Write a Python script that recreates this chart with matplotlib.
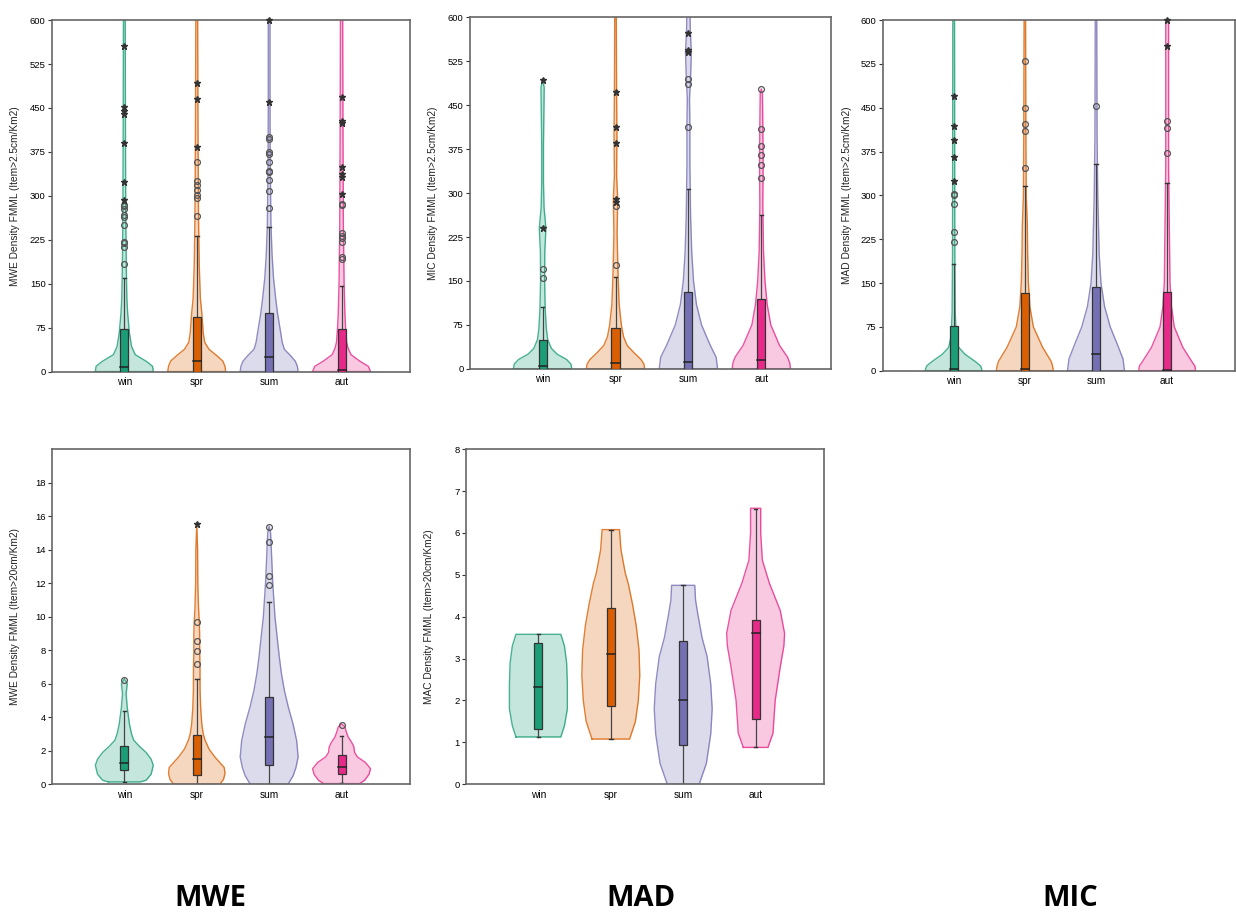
import matplotlib.pyplot as plt
import numpy as np

# estaciones y colores (Dark2)
seasons = ["win", "spr", "sum", "aut"]
colors = ["#1b9e77", "#d95f02", "#7570b3", "#e7298a"]

# ---------------- MWE > 2.5 cm ----------------
mwe25_vy = [
    [0, 9, 17, 29, 43, 66, 100, 125, 170, 260, 400, 620],
    [0, 9, 18, 28, 38, 50, 66, 100, 125, 180, 260, 400, 620],
    [0, 9, 18, 28, 38, 50, 66, 100, 125, 160, 200, 250, 350, 450, 620],
    [0, 9, 18, 29, 40, 50, 75, 100, 150, 250, 400, 620],
]
mwe25_vw = [
    [0.40, 0.39, 0.31, 0.15, 0.10, 0.07, 0.046, 0.035, 0.028, 0.02, 0.016, 0.012],
    [0.40, 0.39, 0.36, 0.27, 0.17, 0.11, 0.09, 0.07, 0.05, 0.035, 0.025, 0.018, 0.012],
    [0.40, 0.39, 0.36, 0.29, 0.21, 0.18, 0.16, 0.115, 0.09, 0.06, 0.04, 0.025, 0.015, 0.012, 0.012],
    [0.40, 0.37, 0.25, 0.13, 0.09, 0.07, 0.055, 0.046, 0.035, 0.025, 0.02, 0.015],
]
# [bigote inf, q1, mediana, q3, bigote sup]
mwe25_box = [[0, 0, 8, 72, 160], [0, 0, 18, 93, 232], [0, 0, 25, 100, 247], [0, 0, 2, 72, 146]]
mwe25_circ = [
    [183, 213, 219, 222, 250, 264, 267, 278, 282, 284],
    [265, 296, 302, 310, 318, 325, 357],
    [279, 309, 327, 341, 343, 357, 372, 374, 397, 400],
    [193, 195, 222, 228, 232, 237, 284, 286],
]
mwe25_star = [
    [293, 323, 390, 440, 445, 452, 555],
    [383, 465, 492],
    [460, 600],
    [303, 333, 338, 350, 425, 427, 468],
]

# ---------------- MIC > 2.5 cm ----------------
mic25_vy = [
    [0, 8, 16, 25, 35, 50, 70, 105, 150, 200, 225, 240, 255, 275, 320, 380, 440, 480, 495],
    [0, 8, 16, 28, 40, 55, 75, 110, 160, 230, 290, 330, 400, 470, 620],
    [0, 10, 20, 40, 75, 110, 150, 200, 260, 350, 420, 460, 500, 540, 580, 620],
    [0, 10, 20, 40, 75, 110, 150, 200, 280, 350, 420, 470, 478],
]
mic25_vw = [
    [0.40, 0.39, 0.33, 0.2, 0.12, 0.07, 0.05, 0.035, 0.028, 0.03, 0.04, 0.045, 0.035, 0.02, 0.012, 0.012, 0.018, 0.022, 0.0],
    [0.40, 0.39, 0.35, 0.25, 0.16, 0.11, 0.08, 0.05, 0.035, 0.022, 0.03, 0.015, 0.02, 0.015, 0.01],
    [0.40, 0.39, 0.38, 0.3, 0.18, 0.11, 0.07, 0.045, 0.03, 0.02, 0.02, 0.015, 0.03, 0.04, 0.025, 0.02],
    [0.40, 0.39, 0.36, 0.25, 0.13, 0.08, 0.05, 0.03, 0.02, 0.025, 0.02, 0.015, 0.0],
]
mic25_box = [[0, 0, 5, 49, 106], [0, 0, 10, 70, 157], [0, 0, 12, 131, 307], [0, 0, 15, 119, 263]]
mic25_circ = [[155, 171], [178, 278], [412, 487, 495], [325, 348, 365, 380, 410, 477]]
mic25_star = [[240, 493], [284, 290, 385, 412, 472], [540, 545, 573], []]

# ---------------- MAD > 2.5 cm ----------------
mad25_vy = [
    [0, 8, 16, 28, 40, 60, 100, 200, 620],
    [0, 8, 16, 40, 75, 110, 150, 200, 250, 300, 400, 620],
    [0, 10, 20, 45, 75, 110, 150, 200, 300, 400, 620],
    [0, 8, 15, 40, 75, 110, 150, 250, 350, 620],
]
mad25_vw = [
    [0.40, 0.38, 0.3, 0.16, 0.07, 0.035, 0.022, 0.016, 0.012],
    [0.40, 0.39, 0.37, 0.25, 0.12, 0.07, 0.05, 0.04, 0.035, 0.02, 0.015, 0.01],
    [0.40, 0.39, 0.38, 0.3, 0.2, 0.12, 0.07, 0.045, 0.025, 0.015, 0.01],
    [0.40, 0.39, 0.35, 0.22, 0.1, 0.06, 0.04, 0.03, 0.02, 0.02],
]
mad25_box = [[0, 0, 3, 77, 182], [0, 0, 3, 133, 316], [0, 0, 28, 143, 353], [0, 0, 2, 135, 321]]
mad25_circ = [[220, 238, 286, 300, 302], [347, 410, 423, 450, 530], [453], [372, 415, 428]]
mad25_star = [[325, 365, 395, 418, 470], [], [], [555, 600]]

# ---------------- MWE > 20 cm ----------------
mwe20_vy = [
    [0.14, 0.24, 0.6, 1.13, 1.5, 1.9, 2.3, 2.63, 3.0, 3.6, 4.6, 5.4, 6.0, 6.3],
    [0, 0.3, 0.64, 1.0, 1.63, 2.1, 2.63, 3.0, 3.6, 4.5, 5.6, 7.0, 8.0, 9.0, 9.7, 10.5, 12, 14, 15.6],
    [0, 0.5, 1.0, 1.63, 2.6, 3.6, 4.6, 5.6, 6.6, 7.6, 8.6, 10, 11, 12, 13, 14, 15, 15.4],
    [0.04, 0.24, 0.6, 0.93, 1.3, 1.63, 1.9, 2.23, 2.5, 2.83, 3.2, 3.43, 3.6],
]
mwe20_vw = [
    [0.22, 0.3, 0.37, 0.40, 0.37, 0.3, 0.2, 0.13, 0.1, 0.07, 0.04, 0.025, 0.04, 0.0],
    [0.32, 0.37, 0.39, 0.38, 0.25, 0.17, 0.115, 0.09, 0.07, 0.055, 0.046, 0.045, 0.04, 0.04, 0.035, 0.025, 0.015, 0.012, 0.0],
    [0.26, 0.33, 0.37, 0.40, 0.38, 0.33, 0.265, 0.21, 0.17, 0.14, 0.115, 0.08, 0.065, 0.05, 0.04, 0.03, 0.02, 0.0],
    [0.25, 0.32, 0.38, 0.40, 0.33, 0.22, 0.18, 0.17, 0.14, 0.09, 0.06, 0.046, 0.0],
]
mwe20_box = [[0.12, 0.85, 1.25, 2.28, 4.4], [0, 0.55, 1.5, 2.95, 6.3], [0, 1.15, 2.85, 5.2, 10.9], [0.1, 0.6, 1.05, 1.72, 2.9]]
mwe20_circ = [[6.25], [7.15, 7.95, 8.55, 9.7], [11.9, 12.45, 14.45, 15.35], [3.55]]
mwe20_star = [[], [15.55], [], []]

# ---------------- MAC > 20 cm ----------------
mac20_vy = [
    [1.13, 1.4, 1.8, 2.4, 2.9, 3.3, 3.58],
    [1.08, 1.5, 2.0, 2.6, 3.2, 3.8, 4.3, 4.8, 5.04, 5.6, 6.08],
    [0, 0.5, 1.2, 1.8, 2.4, 3.05, 3.5, 4.08, 4.4, 4.75],
    [0.88, 1.22, 2.0, 2.8, 3.3, 3.6, 4.15, 4.8, 5.35, 6.0, 6.59],
]
mac20_vw = [
    [0.31, 0.36, 0.4, 0.4, 0.39, 0.36, 0.31],
    [0.26, 0.34, 0.38, 0.4, 0.39, 0.35, 0.3, 0.24, 0.2, 0.14, 0.12],
    [0.22, 0.32, 0.38, 0.4, 0.38, 0.33, 0.26, 0.2, 0.17, 0.16],
    [0.17, 0.24, 0.27, 0.34, 0.39, 0.4, 0.34, 0.19, 0.093, 0.07, 0.07],
]
mac20_box = [[1.13, 1.33, 2.33, 3.38, 3.58], [1.08, 1.87, 3.1, 4.22, 6.08], [0, 0.93, 2.0, 3.43, 4.75], [0.88, 1.55, 3.62, 3.92, 6.58]]
mac20_circ = [[], [], [], []]
mac20_star = [[], [], [], []]

plt.rcParams['font.family'] = ['Liberation Sans', 'DejaVu Sans']


def panel(ax, vy, vw, box, circ, star, ylim, yticks, ylabel):
    for i, c in enumerate(colors):
        pos = i + 1
        y = np.array(vy[i], dtype=float)
        w = np.array(vw[i], dtype=float)
        ax.fill_betweenx(y, pos - w, pos + w, color=c, alpha=0.25, lw=0)
        xs = np.concatenate([pos - w, (pos + w)[::-1], [pos - w[0]]])
        ys = np.concatenate([y, y[::-1], [y[0]]])
        ax.plot(xs, ys, color=c, lw=1.0, alpha=0.8)
        lo, q1, med, q3, hi = box[i]
        # bigotes
        ax.plot([pos, pos], [lo, q1], color="#444444", lw=0.9)
        ax.plot([pos, pos], [q3, hi], color="#444444", lw=0.9)
        ax.plot([pos - 0.025, pos + 0.025], [hi, hi], color="#333333", lw=1.0)
        ax.plot([pos - 0.025, pos + 0.025], [lo, lo], color="#333333", lw=1.0)
        # caja
        ax.add_patch(plt.Rectangle((pos - 0.055, q1), 0.11, q3 - q1, facecolor=c,
                                   edgecolor="#333333", lw=0.9, zorder=3))
        ax.plot([pos - 0.055, pos + 0.055], [med, med], color="#222222", lw=1.1, zorder=4)
        # atipicos
        ax.plot([pos] * len(circ[i]), circ[i], 'o', ms=4.2, mfc='none', mec="#555555",
                mew=0.9, zorder=5, clip_on=False)
        ax.plot([pos] * len(star[i]), star[i], '*', ms=5, color="#333333", zorder=5,
                clip_on=False)
    ax.set_xlim(0, 4.95)
    ax.set_ylim(*ylim)
    ax.set_yticks(yticks)
    ax.set_xticks([1, 2, 3, 4])
    ax.set_xticklabels(seasons)
    ax.tick_params(axis='x', length=0, labelsize=7.3, pad=4)
    ax.tick_params(axis='y', length=3, width=0.8, labelsize=6.8, pad=1.5, color="#333333")
    for s in ax.spines.values():
        s.set_color("#666666")
        s.set_linewidth(1.2)
    ax.set_ylabel(ylabel, fontsize=7.3, color="#222222")
    ax.yaxis.set_label_coords(-0.088, 0.5)


fig = plt.figure(figsize=(12.36, 9.13), dpi=100)

ax1 = fig.add_axes([0.042, 0.593, 0.290, 0.385])
panel(ax1, mwe25_vy, mwe25_vw, mwe25_box, mwe25_circ, mwe25_star, (0, 600),
      np.arange(0, 601, 75), "MWE Density FMML (Item>2.5cm/Km2)")

ax2 = fig.add_axes([0.380, 0.596, 0.292, 0.385])
panel(ax2, mic25_vy, mic25_vw, mic25_box, mic25_circ, mic25_star, (0, 600),
      np.arange(0, 601, 75), "MIC Density FMML (Item>2.5cm/Km2)")

ax3 = fig.add_axes([0.714, 0.594, 0.285, 0.384])
panel(ax3, mad25_vy, mad25_vw, mad25_box, mad25_circ, mad25_star, (0, 600),
      np.arange(0, 601, 75), "MAD Density FMML (Item>2.5cm/Km2)")

ax4 = fig.add_axes([0.042, 0.141, 0.290, 0.367])
panel(ax4, mwe20_vy, mwe20_vw, mwe20_box, mwe20_circ, mwe20_star, (0, 20),
      np.arange(0, 19, 2), "MWE Density FMML (Item>20cm/Km2)")

ax5 = fig.add_axes([0.377, 0.141, 0.290, 0.367])
panel(ax5, mac20_vy, mac20_vw, mac20_box, mac20_circ, mac20_star, (0, 8),
      np.arange(0, 9, 1), "MAC Density FMML (Item>20cm/Km2)")

# etiquetas inferiores
for x, t in [(0.170, "MWE"), (0.519, "MAD"), (0.866, "MIC")]:
    fig.text(x, 0.016, t, ha='center', va='center', fontsize=21, fontweight='bold',
             family=['Open Sans', 'DejaVu Sans'])

fig.savefig("out.png", dpi=100)
